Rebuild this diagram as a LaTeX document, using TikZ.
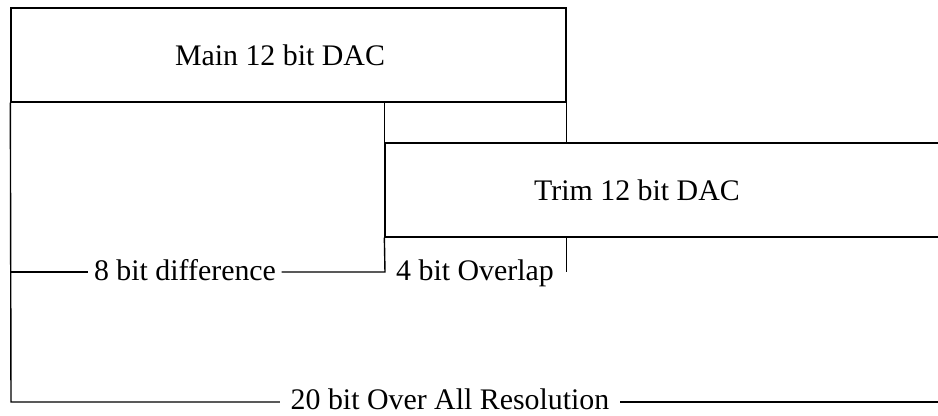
\documentclass[tikz,border=0pt]{standalone}
\usepackage{fontspec}
\setmainfont{Liberation Serif}
\usetikzlibrary{calc, positioning}
\tikzset{
  dacbox/.style = {draw, line width=0.8pt, inner sep=0pt},
  rule/.style   = {line width=0.8pt, black},
  lbl/.style    = {font=\fontsize{17}{20}\selectfont, inner sep=0pt},
  span/.style   = {font=\fontsize{17}{20}\selectfont, anchor=base, inner ysep=2pt, inner xsep=3pt},
}
\begin{document}
\begin{tikzpicture}[x=0.02cm, y=-0.02cm]
  \useasboundingbox (0,0) rectangle (938,416);
  \clip (0,0) rectangle (938,416);

  % the two converters
  \node[dacbox, minimum width=11.1cm, minimum height=1.88cm] (main) at (288.5,55) {};
  \node[dacbox, minimum width=11.9cm, minimum height=1.88cm] (trim) at (682.5,190) {};
  \node[lbl] (mainlbl) at (280,55) {Main 12 bit DAC};
  \node[lbl] (trimlbl) at (637,190) {Trim 12 bit DAC};

  % dimension labels
  \node[span] (diff) at (185,280) {8 bit difference};
  \node[span] (overlap) at (475,280) {4 bit Overlap};
  \node[span, inner xsep=6pt] (res) at (450,409) {20 bit Over All Resolution};

  \coordinate (difL) at (11,272);
  \coordinate (difR) at (385,272);
  \coordinate (resL) at (11,402);
  \coordinate (resR) at (938,402);

  \draw[rule] (main.south west) -- (resL) -- (resL -| res.west);
  \draw[rule] (resR -| res.east) -- (resR);
  \draw[rule] (difL) -- (difL -| diff.west);
  \draw[rule] (difL -| diff.east) -- (difR) -- (trim.south west);
  \draw[rule] (trim.north west |- main.south) -- (trim.north west);
  \draw[rule] (main.south east) -- (main.south east |- trim.north);
  \draw[rule] (main.south east |- trim.south) -- (main.south east |- difL);
\end{tikzpicture}
\end{document}
